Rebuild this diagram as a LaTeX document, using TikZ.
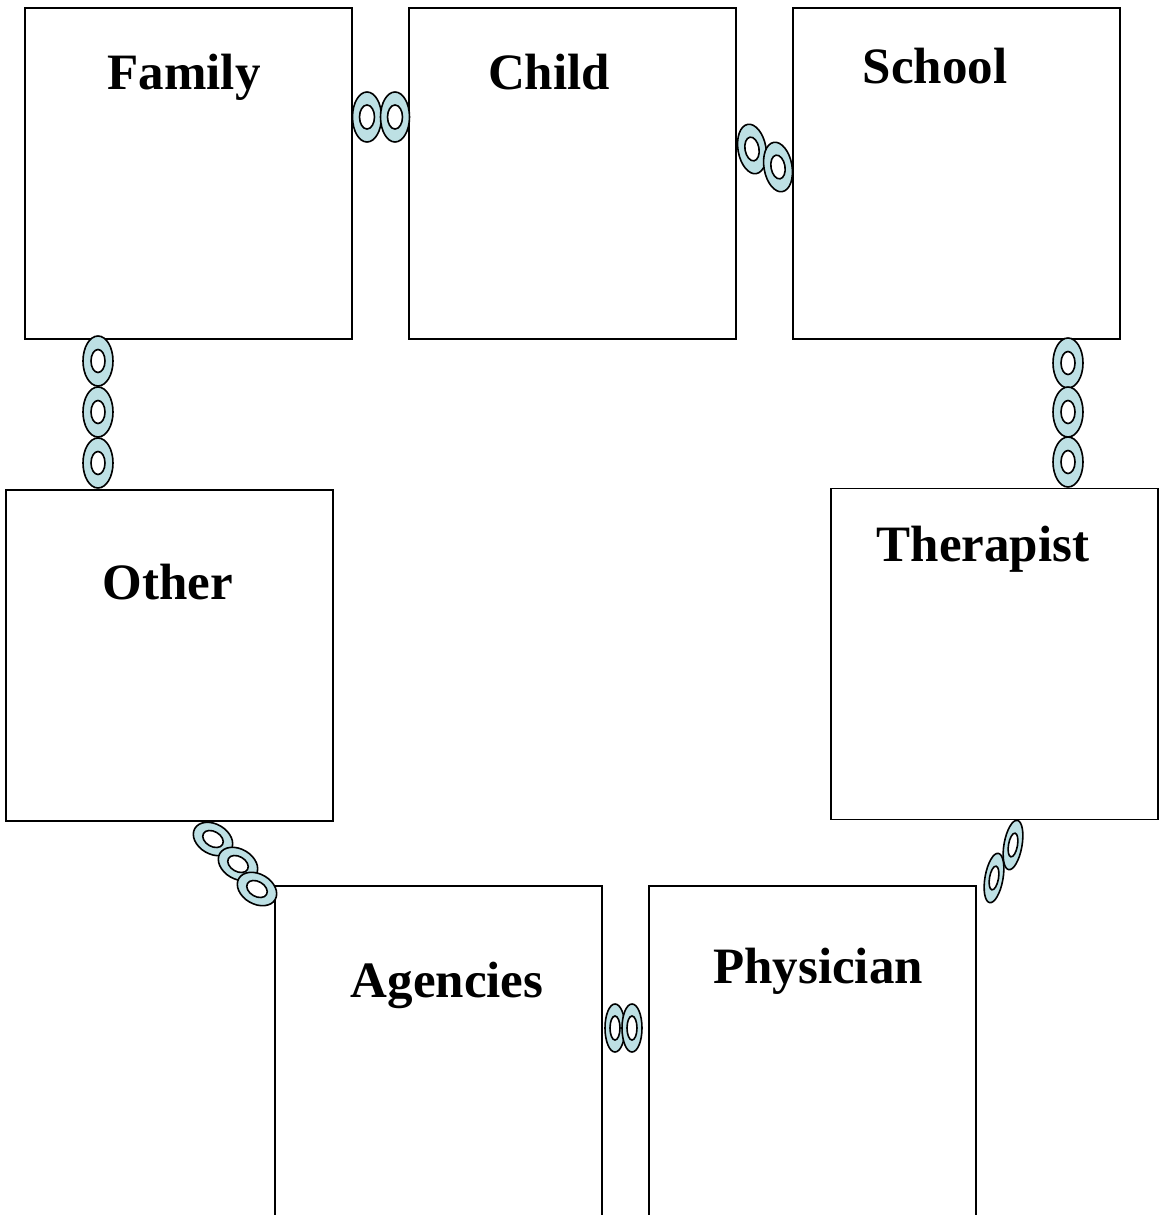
\documentclass[tikz,border=0pt]{standalone}
\usepackage{fontspec}
\setmainfont{Liberation Serif}
\definecolor{linkblue}{RGB}{189,224,228}

% one link of the chain: centre, turn, outer radii, inner radii
\newcommand{\chainlink}[6]{%
  \filldraw[link,rotate around={#2:#1}]#1 ellipse[x radius=#3pt,y radius=#4pt];
  \filldraw[hole,rotate around={#2:#1}]#1 ellipse[x radius=#5pt,y radius=#6pt];}

\begin{document}
\begin{tikzpicture}[x=1pt,y=-1pt,
        box/.style={draw,line width=1.4pt,minimum width=327pt,minimum height=331pt,inner sep=0pt},
        lowbox/.style={box,minimum height=380pt},
        lbl/.style={anchor=base,inner sep=0pt,font=\fontsize{51}{60}\selectfont\bfseries},
        link/.style={fill=linkblue,draw=black,line width=1.6pt},
        hole/.style={fill=white,draw=black,line width=1.6pt}]
        \useasboundingbox(0,0)rectangle(1161,1215);
        \clip(0,0)rectangle(1161,1215);

        % the seven boxes
        \node[box](family)at(188.5,173.5){};
        \node[box](child)at(572.5,173.5){};
        \node[box](school)at(956.5,173.5){};
        \node[box](other)at(169.5,655.5){};
        \node[box](therapist)at(994.5,654){};
        \node[lowbox](agencies)at(438.5,1076){};
        \node[lowbox](physician)at(812.5,1076){};

        \node[lbl](familyname)at(184,89){Family};
        \node[lbl](childname)at(549,89){Child};
        \node[lbl](schoolname)at(935,83){School};
        \node[lbl](othername)at(168,599){Other};
        \node[lbl](therapistname)at(983,561){Therapist};
        \node[lbl](agenciesname)at(447,997){Agencies};
        \node[lbl](physicianname)at(818,983){Physician};

        % chains between the boxes
        \chainlink{(367,117)}{0}{14.5}{25}{7.5}{12}
        \chainlink{(395,117)}{0}{14.5}{25}{7.5}{12}

        \chainlink{(752,149)}{10}{14}{25}{7}{12}
        \chainlink{(778,167)}{10}{14}{25}{7}{12}

        \chainlink{(98,361)}{0}{15}{25}{7}{11.5}
        \chainlink{(98,412)}{0}{15}{25}{7}{11.5}
        \chainlink{(98,463)}{0}{15}{25}{7}{11.5}

        \chainlink{(1068,363)}{0}{15}{25}{7}{11.5}
        \chainlink{(1068,412)}{0}{15}{25}{7}{11.5}
        \chainlink{(1068,462)}{0}{15}{25}{7}{11.5}

        \chainlink{(213,839)}{60}{15}{21}{7.5}{11}
        \chainlink{(238,864)}{60}{15}{21}{7.5}{11}
        \chainlink{(257,889)}{60}{15}{21}{7.5}{11}

        \chainlink{(1013,845)}{-10}{9}{25}{4.5}{12}
        \chainlink{(994,878)}{-10}{9}{25}{4.5}{12}

        \chainlink{(615,1028)}{0}{10}{24}{5}{12}
        \chainlink{(632,1028)}{0}{10}{24}{5}{12}
\end{tikzpicture}
\end{document}
